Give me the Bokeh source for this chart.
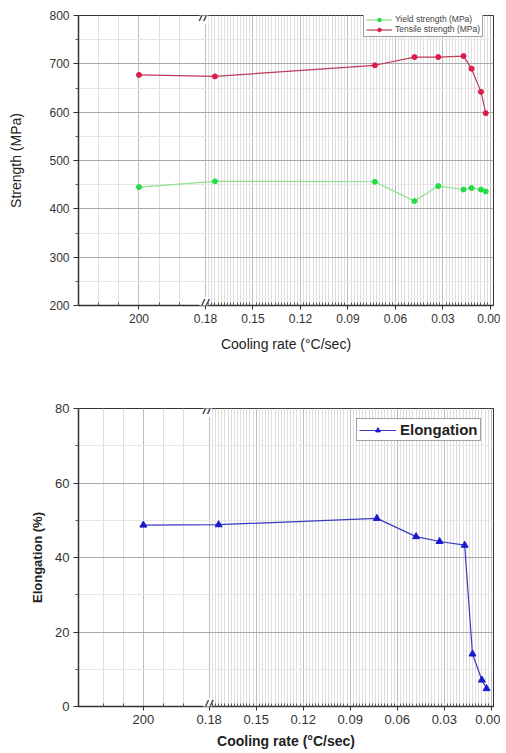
from bokeh.plotting import figure
from bokeh.layouts import column
from bokeh.models import Range1d, FixedTicker, Label, Legend, LegendItem
from bokeh.embed import file_html
from bokeh.resources import INLINE
import numpy as np

# ---------------- data ----------------
cooling_rate = [200, 0.174, 0.073, 0.048, 0.033, 0.017, 0.012, 0.006, 0.003]
yield_strength = [445, 457, 456, 416, 447, 440, 443, 440, 436]
tensile_strength = [677, 674, 697, 714, 714, 716, 690, 642, 598]
elongation = [48.7, 48.8, 50.5, 45.6, 44.3, 43.3, 14.1, 7.1, 4.8]

x_tick_values = [200, 0.18, 0.15, 0.12, 0.09, 0.06, 0.03, 0.0]
x_tick_labels = ["200", "0.18", "0.15", "0.12", "0.09", "0.06", "0.03", "0.00"]
left_minor_values = [100, 150, 250, 300]
strength_ticks = [200, 300, 400, 500, 600, 700, 800]
elong_ticks = [0, 20, 40, 60, 80]

# ---------------- broken x axis mapping ----------------
BREAK = 0.181
LEFT_POS = 0.222
LEFT_SCALE = 0.0128 / 50


def axis_x(r):
    return r if r <= BREAK else LEFT_POS + (r - 200.0) * LEFT_SCALE


xs = [axis_x(r) for r in cooling_rate]
major_x = [axis_x(v) for v in x_tick_values]
right_minor = [round(float(v), 4) for v in np.arange(0.002, 0.1795, 0.002)
               if abs(v / 0.03 - round(v / 0.03)) > 1e-6]
minor_x = [axis_x(v) for v in left_minor_values] + right_minor
overrides = {m: lab for m, lab in zip(major_x, x_tick_labels)}

FONT = "Liberation Sans"


def style(p, yticks, xlabel, ylabel, bold, tick_size, xlab_size, ylab_size, ylab_standoff, xlab_standoff):
    xa = p.xaxis[0]
    ya = p.yaxis[0]
    xa.ticker = FixedTicker(ticks=major_x, minor_ticks=minor_x)
    xa.major_label_overrides = overrides
    step = yticks[1] - yticks[0]
    ya.ticker = FixedTicker(ticks=yticks, minor_ticks=[t + step / 2 for t in yticks[:-1]])
    for ax in (xa, ya):
        ax.axis_line_color = "#333333"
        ax.axis_line_width = 1.5
        ax.major_tick_line_color = "#333333"
        ax.minor_tick_line_color = "#555555"
        ax.major_label_text_font = FONT
        ax.major_label_text_font_size = tick_size
        ax.major_label_text_color = "#333333"
        ax.axis_label_text_font = FONT
        ax.axis_label_text_color = "#222222"
        ax.axis_label_text_font_style = "bold" if bold else "normal"
    xa.major_tick_out = 4
    xa.major_tick_in = 0
    xa.minor_tick_out = 0
    xa.minor_tick_in = 3
    xa.major_label_standoff = 4
    ya.major_tick_out = 5
    ya.major_tick_in = 0
    ya.minor_tick_out = 3
    ya.minor_tick_in = 0
    ya.major_label_standoff = 4
    xa.axis_label = xlabel
    ya.axis_label = ylabel
    xa.axis_label_text_font_size = xlab_size
    ya.axis_label_text_font_size = ylab_size
    xa.axis_label_standoff = xlab_standoff
    ya.axis_label_standoff = ylab_standoff
    p.xgrid.grid_line_color = "#bdbdbd"
    p.xgrid.minor_grid_line_color = "#dedede"
    p.ygrid.grid_line_color = "#a9a9a9"
    p.ygrid.minor_grid_line_color = "#e6e6e6"
    p.outline_line_color = "#333333"
    p.outline_line_width = 1
    p.background_fill_color = "white"
    ymin, ymax = p.y_range.start, p.y_range.end
    for yy in (ymin, ymax):
        p.add_layout(Label(x=BREAK, y=yy, text="//", text_align="center", text_baseline="middle",
                           text_font=FONT, text_font_size="16px", text_font_style="italic",
                           text_color="#222222", background_fill_color="white"))


# ---------------- top chart: strength ----------------
p1 = figure(width=500, height=362, output_backend="svg", toolbar_location=None,
            x_range=Range1d(0.2602, -0.0019), y_range=Range1d(200, 800),
            min_border_left=78, min_border_right=7, min_border_top=15, min_border_bottom=57)
style(p1, strength_ticks, "Cooling rate (°C/sec)", "Strength (MPa)", False,
      "12px", "14px", "14px", 22, 10)

gl = p1.line(xs, yield_strength, line_color="#8fe08f", line_width=1.2)
gs = p1.scatter(xs, yield_strength, size=5, fill_color="#22dd44", line_color="#22dd44")
rl = p1.line(xs, tensile_strength, line_color="#c03a5a", line_width=1.2)
rs = p1.scatter(xs, tensile_strength, size=5, fill_color="#dd1a4a", line_color="#dd1a4a")

leg1 = Legend(items=[LegendItem(label="Yield strength (MPa)", renderers=[gl, gs]),
                     LegendItem(label="Tensile strength (MPa)", renderers=[rl, rs])],
              location=(285, 268), label_text_font=FONT, label_text_font_size="8.5px",
              label_text_color="#444444", glyph_width=26, glyph_height=9, label_height=9,
              spacing=0, padding=2, margin=0, label_standoff=3,
              border_line_color="#444444", background_fill_color="white", background_fill_alpha=1)
p1.add_layout(leg1)

# ---------------- bottom chart: elongation ----------------
p2 = figure(width=500, height=390, output_backend="svg", toolbar_location=None,
            x_range=Range1d(0.2634, -0.0014), y_range=Range1d(0, 80),
            min_border_left=74, min_border_right=1, min_border_top=46, min_border_bottom=46)
style(p2, elong_ticks, "Cooling rate (°C/sec)", "Elongation (%)", True,
      "13px", "14px", "13px", 7, 6)

bl = p2.line(xs, elongation, line_color="#3a3ac0", line_width=1.2)
bs = p2.scatter(xs, elongation, marker="triangle", size=7, fill_color="#1a1acc", line_color="#1a1acc")

leg2 = Legend(items=[LegendItem(label="Elongation", renderers=[bl, bs])],
              location=(278, 265), label_text_font=FONT, label_text_font_size="15px",
              label_text_font_style="bold", label_text_color="#222222",
              glyph_width=37, glyph_height=12, label_height=12, spacing=0, padding=2, margin=0,
              label_standoff=4, border_line_color="#444444", border_line_width=1.2,
              background_fill_color="white", background_fill_alpha=1)
p2.add_layout(leg2)

layout = column(p1, p2, spacing=0)
open("out.html", "w").write(file_html(layout, INLINE))
